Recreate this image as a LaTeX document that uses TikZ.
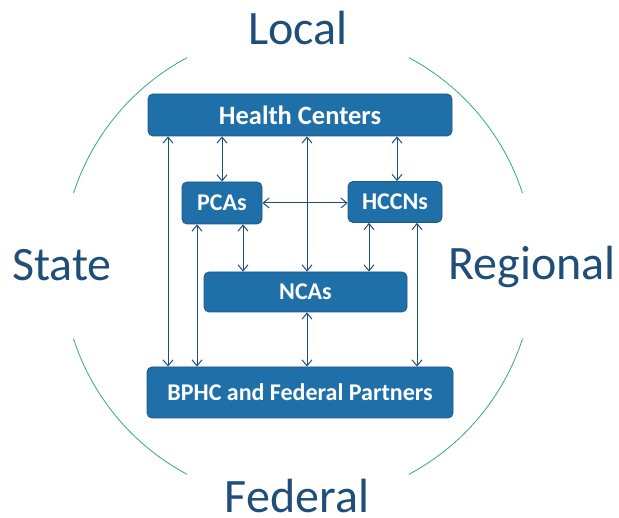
\documentclass[tikz,border=0pt]{standalone}
\usepackage{fontspec}
\setmainfont{Carlito}
\usepackage{tikz}
\usetikzlibrary{arrows.meta,positioning,calc}
\definecolor{boxblue}{RGB}{31,111,168}
\definecolor{boxedge}{RGB}{28,90,138}
\definecolor{levelblue}{RGB}{31,78,121}
\definecolor{ringgreen}{RGB}{52,170,128}
\tikzstyle{level} = [text = levelblue, font = \fontsize{48}{50}\selectfont, anchor = base, inner sep = 0pt]
\tikzstyle{ring} = [draw = ringgreen, line width = 0.8pt]

\begin{document}
\begin{tikzpicture}[
x=1pt,y=1pt,
org/.style={draw=boxedge,line width=0.8pt,rounded corners=5pt,fill=boxblue,text=white,
  font=\fontsize{24}{26}\selectfont\bfseries,inner sep=0pt},
link/.style={{Straight Barb[length=6pt,width=10pt]}-{Straight Barb[length=6pt,width=10pt]},
  line width=1pt,draw=levelblue}]

\useasboundingbox (0,0) rectangle (619,518);

\node[org,minimum width=304pt,minimum height=42pt,font=\fontsize{26.5}{28}\selectfont\bfseries] (hc) at (300,403) {Health Centers};
\node[org,minimum width=80pt,minimum height=42pt] (pcas) at (222,315) {PCAs};
\node[org,minimum width=94pt,minimum height=41pt] (hccns) at (395,316) {HCCNs};
\node[org,minimum width=203pt,minimum height=40pt] (ncas) at (305.5,226) {NCAs};
\node[org,minimum width=306pt,minimum height=51pt] (bphc) at (300,125.5) {BPHC and Federal Partners};

\node[level] (local) at (298,473) {Local};
\node[level] (state) at (62,237) {State};
\node[level] (regional) at (532,238) {Regional};
\node[level] (federal) at (297,5.5) {Federal};

\coordinate (ring) at (298,252);
\draw[ring] ($(ring)+(118:236)$) arc[start angle=118,end angle=162,radius=236];
\draw[ring] ($(ring)+(198:236)$) arc[start angle=198,end angle=242,radius=236];
\draw[ring] ($(ring)+(18:236)$) arc[start angle=18,end angle=62,radius=236];
\draw[ring] ($(ring)+(-62:236)$) arc[start angle=-62,end angle=-18,radius=236];

\coordinate (c1) at (168,0);
\coordinate (c2) at (197,0);
\coordinate (c3) at (222,0);
\coordinate (c4) at (243,0);
\coordinate (c5) at (307,0);
\coordinate (c6) at (369,0);
\coordinate (c7) at (397,0);
\coordinate (c8) at (417,0);

\draw[link] (hc.south -| c1) -- (bphc.north -| c1);
\draw[link] (hc.south -| c3) -- (pcas.north -| c3);
\draw[link] (hc.south -| c5) -- (ncas.north -| c5);
\draw[link] (hc.south -| c7) -- (hccns.north -| c7);
\draw[link] (pcas.east) -- (pcas.east -| hccns.west);
\draw[link] (pcas.south -| c2) -- (bphc.north -| c2);
\draw[link] (pcas.south -| c4) -- (ncas.north -| c4);
\draw[link] (hccns.south -| c6) -- (ncas.north -| c6);
\draw[link] (hccns.south -| c8) -- (bphc.north -| c8);
\draw[link] (ncas.south -| c5) -- (bphc.north -| c5);
\end{tikzpicture}
\end{document}
